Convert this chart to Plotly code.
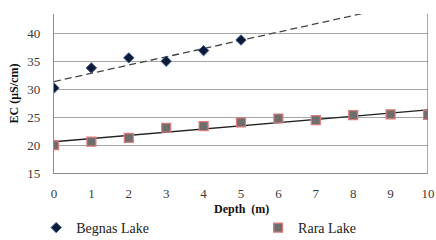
import numpy as np
import plotly.graph_objects as go

begnas_depth = [0, 1, 2, 3, 4, 5]
begnas_ec = [30.2, 33.8, 35.6, 35.0, 36.9, 38.8]
rara_depth = [0, 1, 2, 3, 4, 5, 6, 7, 8, 9, 10]
rara_ec = [20.0, 20.6, 21.3, 23.1, 23.4, 24.05, 24.75, 24.45, 25.35, 25.5, 25.4]
x_ticks = list(range(0, 11))
y_ticks = [15, 20, 25, 30, 35, 40]

FONT = "Liberation Serif, Times New Roman, serif"

xs = np.array([0, 10])
b_fit = np.polyfit(begnas_depth, begnas_ec, 1)
r_fit = np.polyfit(rara_depth, rara_ec, 1)

fig = go.Figure()
fig.add_trace(go.Scatter(x=xs, y=np.polyval(b_fit, xs), mode="lines",
                         line=dict(color="#444444", width=1.3, dash="7px,4px"),
                         showlegend=False, hoverinfo="skip"))
fig.add_trace(go.Scatter(x=xs, y=np.polyval(r_fit, xs), mode="lines",
                         line=dict(color="#222222", width=1.3),
                         showlegend=False, hoverinfo="skip"))
fig.add_trace(go.Scatter(x=begnas_depth, y=begnas_ec, mode="markers", name="Begnas Lake",
                         legend="legend",
                         marker=dict(symbol="diamond", size=8, color="#0d1a33",
                                     line=dict(color="#3a5a9a", width=1))))
fig.add_trace(go.Scatter(x=rara_depth, y=rara_ec, mode="markers", name="Rara Lake",
                         legend="legend2",
                         marker=dict(symbol="square", size=9, color="#6e6e6e",
                                     line=dict(color="#e07a7a", width=1.2))))

leg_font = dict(family=FONT, size=14, color="#222222")
fig.update_layout(
    width=436, height=240,
    margin=dict(l=54, r=8, t=14, b=67, autoexpand=False),
    paper_bgcolor="white", plot_bgcolor="white",
    font=dict(family=FONT, size=13, color="#3a3a3a"),
    legend=dict(orientation="h", xref="container", yref="container", x=0.083, y=0.05,
                xanchor="left", yanchor="middle", font=leg_font, bgcolor="rgba(0,0,0,0)"),
    legend2=dict(orientation="h", xref="container", yref="container", x=0.592, y=0.05,
                 xanchor="left", yanchor="middle", font=leg_font, bgcolor="rgba(0,0,0,0)"),
    showlegend=True,
)
fig.update_xaxes(range=[0, 10], tickvals=x_ticks, showgrid=False, zeroline=False,
                 showline=True, linecolor="#8c8c8c", linewidth=1.3, mirror=False,
                 ticks="", ticklen=0, automargin=False, ticklabelstandoff=8)
fig.add_annotation(text="<b>Depth  (m)</b>", xref="paper", yref="paper", x=0.5, y=-0.226,
                   xanchor="center", yanchor="middle", showarrow=False,
                   font=dict(family=FONT, size=12, color="#111111"))
fig.update_yaxes(range=[15, 43.45], tickvals=y_ticks, showgrid=True, gridcolor="#a6a6a6",
                 gridwidth=1.2, zeroline=False, showline=True, linecolor="#8c8c8c",
                 linewidth=1.3, ticks="", automargin=False, ticklabelstandoff=10,
                 title=dict(text="<b>EC (μS/cm)</b>", font=dict(family=FONT, size=12, color="#111111"),
                            standoff=6))
fig.add_shape(type="line", xref="x", yref="paper", x0=10, x1=10, y0=0, y1=1,
              line=dict(color="#7a7a7a", width=1.3))

fig.write_html("out.html", config={"displayModeBar": False},
               post_script="document.body.style.margin='0';document.body.style.overflow='hidden';")
